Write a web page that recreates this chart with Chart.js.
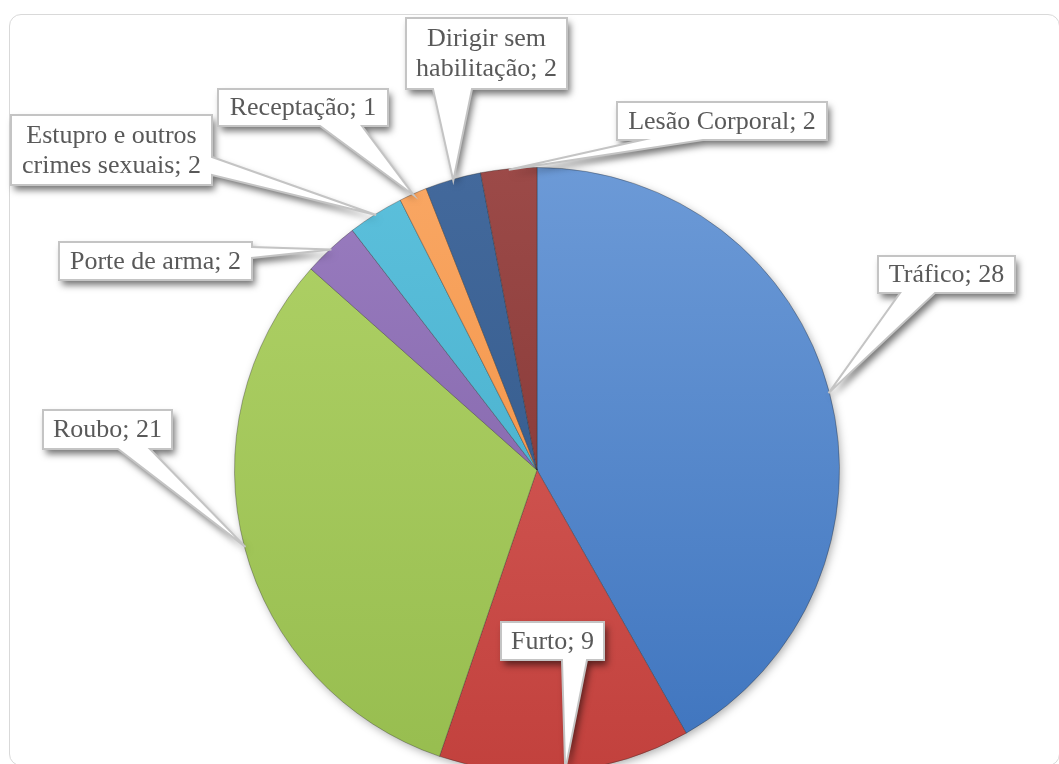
<!DOCTYPE html>
<html>
<head>
<meta charset="utf-8">
<script src="https://cdn.jsdelivr.net/npm/chart.js@4.4.1/dist/chart.umd.min.js"></script>
<style>
html,body{margin:0;padding:0;background:#fff;overflow:hidden;width:1059px;height:764px;}
#frame{position:absolute;left:9px;top:14px;width:1049px;height:750px;border:1.5px solid #d9d9d9;border-radius:12px;}
#myChart{position:absolute;left:0;top:0;}
</style>
</head>
<body>
<div id="frame"></div>
<canvas id="myChart" width="1059" height="940"></canvas>
<script>
// data
const categories = ['Tráfico', 'Furto', 'Roubo', 'Porte de arma', 'Estupro e outros crimes sexuais', 'Receptação', 'Dirigir sem habilitação', 'Lesão Corporal'];
const values = [28, 9, 21, 2, 2, 1, 2, 2];

// slice colours (lighter at top, darker at bottom)
const topColors = ['#6c9ad7', '#d9625e', '#b0d267', '#9a7dc0', '#5cc0dc', '#f9a764', '#43699c', '#9c4a48'];
const bottomColors = ['#3e74be', '#c2413d', '#97bd4f', '#7a5ca2', '#3fa8c5', '#f08a38', '#2e5585', '#7b302e'];

// callout boxes (x, y, w, h) and where the pointer leaves the box
const callouts = [
    {x: 878, y: 256, w: 137, h: 37, side: 'bottom', base: [900, 935]},
    {x: 501, y: 622, w: 103, h: 38, side: 'bottom', base: [562, 587]},
    {x: 43, y: 410, w: 129, h: 39, side: 'bottom', base: [118, 150]},
    {x: 59, y: 242, w: 193, h: 38, side: 'right', base: [247, 258]},
    {x: 11, y: 115, w: 201, h: 70, side: 'right', base: [157, 175]},
    {x: 218, y: 89, w: 170, h: 37, side: 'bottom', base: [320, 362]},
    {x: 406, y: 18, w: 161, h: 71, side: 'bottom', base: [433, 472]},
    {x: 617, y: 102, w: 210, h: 38, side: 'bottom', base: [642, 703]},
];

const labelFont = '26px "Liberation Serif", "Times New Roman", serif';

function wrapText(ctx, text, maxWidth){
    const words = text.split(' ');
    const lines = [];
    let line = '';
    words.forEach(w => {
        const test = line ? line + ' ' + w : w;
        if (line && ctx.measureText(test).width > maxWidth) {
            lines.push(line);
            line = w;
        } else {
            line = test;
        }
    });
    if (line) lines.push(line);
    return lines;
}

// soft shadow behind the pie
const pieShadow = {
    id: 'pieShadow',
    beforeDatasetsDraw(chart){
        const arc = chart.getDatasetMeta(0).data[0];
        if (!arc) return;
        const p = arc.getProps(['x', 'y', 'outerRadius'], true);
        const ctx = chart.ctx;
        ctx.save();
        ctx.shadowColor = 'rgba(0,0,0,0.35)';
        ctx.shadowBlur = 10;
        ctx.shadowOffsetX = 2;
        ctx.shadowOffsetY = 3;
        ctx.fillStyle = '#ffffff';
        ctx.beginPath();
        ctx.arc(p.x, p.y, p.outerRadius - 1, 0, Math.PI * 2);
        ctx.fill();
        ctx.restore();
    }
};

const calloutPlugin = {
    id: 'callouts',
    afterDraw(chart){
        const ctx = chart.ctx;
        const meta = chart.getDatasetMeta(0);
        ctx.save();
        ctx.font = labelFont;
        meta.data.forEach((arc, i) => {
            const c = callouts[i];
            if (!c) return;
            const p = arc.getProps(['x', 'y', 'startAngle', 'endAngle', 'outerRadius'], true);
            const mid = (p.startAngle + p.endAngle) / 2;
            const tip = [p.x + Math.cos(mid) * (p.outerRadius - 1), p.y + Math.sin(mid) * (p.outerRadius - 1)];
            const x0 = c.x, y0 = c.y, x1 = c.x + c.w, y1 = c.y + c.h;
            let pts;
            if (c.side === 'bottom') {
                pts = [[x0, y0], [x1, y0], [x1, y1], [c.base[1], y1], tip, [c.base[0], y1], [x0, y1]];
            } else if (c.side === 'right') {
                pts = [[x0, y0], [x1, y0], [x1, c.base[0]], tip, [x1, c.base[1]], [x1, y1], [x0, y1]];
            } else {
                pts = [[x0, y0], [x1, y0], [x1, y1], [x0, y1], [x0, c.base[1]], tip, [x0, c.base[0]]];
            }
            ctx.beginPath();
            pts.forEach((pt, k) => k ? ctx.lineTo(pt[0], pt[1]) : ctx.moveTo(pt[0], pt[1]));
            ctx.closePath();
            ctx.shadowColor = 'rgba(0,0,0,0.55)';
            ctx.shadowBlur = 7;
            ctx.shadowOffsetX = 3;
            ctx.shadowOffsetY = 5;
            ctx.fillStyle = '#ffffff';
            ctx.fill();
            ctx.shadowColor = 'transparent';
            ctx.lineWidth = 2;
            ctx.lineJoin = 'miter';
            ctx.strokeStyle = '#c4c4c4';
            ctx.stroke();

            const text = categories[i] + '; ' + values[i];
            const lines = wrapText(ctx, text, c.w - 10);
            const lh = 30;
            ctx.fillStyle = '#595959';
            ctx.textAlign = 'center';
            ctx.textBaseline = 'middle';
            const cy = c.y + c.h / 2 - (lines.length - 1) * lh / 2;
            lines.forEach((ln, k) => ctx.fillText(ln, c.x + c.w / 2, cy + k * lh + 1));
        });
        ctx.restore();
    }
};

const canvas = document.getElementById('myChart');
new Chart(canvas.getContext('2d'), {
    type: 'pie',
    data: {
        labels: categories,
        datasets: [{
            data: values,
            backgroundColor(c){
                const a = c.chart.chartArea;
                const i = c.dataIndex;
                if (!a) return bottomColors[i];
                const g = c.chart.ctx.createLinearGradient(0, a.top, 0, a.bottom);
                g.addColorStop(0, topColors[i]);
                g.addColorStop(1, bottomColors[i]);
                return g;
            },
            borderColor: 'rgba(40,40,40,0.35)',
            borderWidth: 1,
        }]
    },
    options: {
        responsive: false,
        animation: false,
        layout: {padding: {left: 100, right: 85, top: 167, bottom: 167}},
        plugins: {
            legend: {display: false},
            tooltip: {enabled: false},
        },
    },
    plugins: [pieShadow, calloutPlugin],
});
</script>
</body>
</html>
